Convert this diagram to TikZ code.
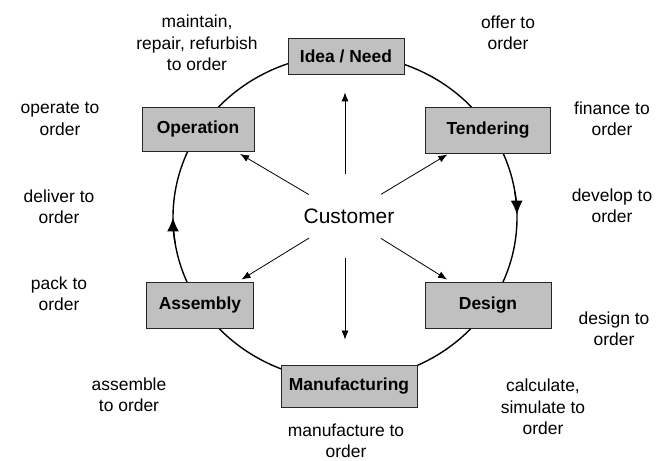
\documentclass[tikz,border=0pt]{standalone}
\usepackage{fontspec}
\setmainfont{Liberation Sans}
\usetikzlibrary{arrows.meta}
\definecolor{boxgray}{HTML}{C0C0C0}
\tikzset{
  stage/.style={draw=black!85, fill=boxgray, line width=0.8bp, inner sep=0pt,
    font=\bfseries\fontsize{17.5}{21}\selectfont},
  note/.style={align=center, font=\fontsize{17.5}{21.5}\selectfont},
  push/.style={-{Latex[length=9bp,width=7bp]}, line width=0.8bp},
  rim/.style={line width=1.4bp},
}
\begin{document}
\begin{tikzpicture}[x=1bp,y=-1bp]
\useasboundingbox (0,0) rectangle (664,461);
% the ring
\coordinate (ring) at (345,217.5);
\draw[rim] (ring) ellipse [x radius=172, y radius=163];
\draw[rim, -{Latex[length=14bp,width=12bp]}] (ring) ++(-9:172 and 163)
  arc [start angle=-9, end angle=-1, x radius=172, y radius=163];
\draw[rim, -{Latex[length=14bp,width=12bp]}] (ring) ++(171:172 and 163)
  arc [start angle=171, end angle=180, x radius=172, y radius=163];
% stages
\node[stage, minimum width=116bp, minimum height=36bp] (idea) at (346,56) {Idea / Need};
\node[stage, minimum width=125bp, minimum height=46bp] (tender) at (488,130) {Tendering};
\node[stage, minimum width=126bp, minimum height=46bp] (design) at (488,305) {Design};
\node[stage, minimum width=136bp, minimum height=42bp] (manu) at (349,386) {Manufacturing};
\node[stage, minimum width=107bp, minimum height=46bp] (assembly) at (200,305) {Assembly};
\node[stage, minimum width=112bp, minimum height=44bp] (operation) at (198,129) {Operation};
% customer in the middle
\node[font=\fontsize{21}{25}\selectfont] (cust) at (349,216) {Customer};
\node[circle, minimum size=84bp, inner sep=0pt] (hub) at (345,216) {};
\draw[push, shorten >=18bp] (hub) -- (hub |- idea.south);
\draw[push, shorten >=25bp] (hub) -- (hub |- manu.north);
\draw[push, shorten >=2bp] (hub) -- (tender);
\draw[push, shorten >=5bp] (hub) -- (operation);
\draw[push, shorten >=4bp] (hub) -- (assembly);
\draw[push, shorten >=4bp] (hub) -- (design);
% the "to order" notes
\node[note] (maintain) at (197,43) {maintain,\\repair, refurbish\\to order};
\node[note] (offer) at (508,33) {offer to\\order};
\node[note] (operate) at (60,119) {operate to\\order};
\node[note] (finance) at (612,119) {finance to\\order};
\node[note] (develop) at (612,206) {develop to\\order};
\node[note] (deliver) at (59,207) {deliver to\\order};
\node[note] (pack) at (59,294) {pack to\\order};
\node[note] (designto) at (614,329) {design to\\order};
\node[note] (assemble) at (129,395) {assemble\\to order};
\node[note] (calc) at (543,407) {calculate,\\simulate to\\order};
\node[note] (manuto) at (346,441) {manufacture to\\order};
\end{tikzpicture}
\end{document}
